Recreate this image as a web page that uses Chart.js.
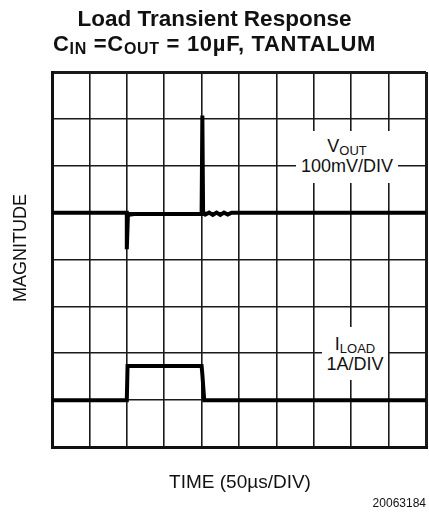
<!DOCTYPE html>
<html>
<head>
<meta charset="utf-8">
<script src="https://cdn.jsdelivr.net/npm/chart.js@4/dist/chart.umd.min.js"></script>
<style>
  body { margin: 0; background: #fff; }
  #wrap { position: relative; width: 429px; height: 518px; font-family: "Liberation Sans", Arial, sans-serif; color: #111; }
  #plot { position: absolute; left: 0; top: 0; }
  .txt { position: absolute; white-space: nowrap; line-height: 1; }
  .title { left: 0; width: 429px; text-align: center; font-weight: bold; }
  .title sub { font-size: 16px; vertical-align: -3px; }
  .box { position: absolute; background: #fff; text-align: center; font-size: 18px; line-height: 1; }
  .box sub { font-size: 13px; vertical-align: -3px; }
</style>
</head>
<body>
<div id="wrap">
  <canvas id="plot" width="429" height="518"></canvas>
  <div class="txt title" style="top:8px; font-size:22.5px">Load Transient Response</div>
  <div class="txt title" style="top:33px; font-size:22px; letter-spacing:0.7px">C<sub>IN</sub> =C<sub>OUT</sub> = 10µF, TANTALUM</div>
  <div class="box" style="left:296px; top:131px; width:102px; height:52px; padding-top:6px; box-sizing:border-box">V<sub>OUT</sub><br>100mV/DIV</div>
  <div class="box" style="left:322px; top:327px; width:66px; height:53px; padding-top:8px; box-sizing:border-box">I<sub>LOAD</sub><br>1A/DIV</div>
  <div class="txt" style="left:20px; top:248px; font-size:18px; transform: translate(-50%, -50%) rotate(-90deg);">MAGNITUDE</div>
  <div class="txt" style="left:240px; top:481px; font-size:19px; transform: translate(-50%, -50%);">TIME (50µs/DIV)</div>
  <div class="txt" style="right:3px; top:497px; font-size:12px;">20063184</div>
</div>
<script>
// time axis in divisions (50us/div), levels in screen divisions from the bottom
const xDivs = [0, 10];
const yDivs = [0, 8];

const voutTime  = [0, 2.0, 2.0, 2.03, 2.1, 2.2, 4.0, 4.02, 4.04, 4.1, 4.2, 4.3, 4.4, 4.5, 4.6, 4.7, 4.8, 10];
const voutLevel = [5.0, 5.0, 4.22, 4.95, 4.96, 4.97, 4.97, 7.07, 5.02, 4.96, 5.0, 4.95, 5.0, 4.95, 5.0, 4.96, 5.0, 5.0];

const loadTime  = [0, 2.0, 2.02, 4.0, 4.02, 4.07, 10];
const loadLevel = [1.0, 1.0, 1.73, 1.73, 1.55, 1.0, 1.0];

const toPts = (xs, ys) => xs.map((x, i) => ({ x: x, y: ys[i] }));

const edge = (c, lo, hi) => (c.tick && (c.tick.value === lo || c.tick.value === hi)) ? 3 : 1.6;

new Chart(document.getElementById('plot'), {
  type: 'line',
  data: {
    datasets: [
      { label: 'VOUT', data: toPts(voutTime, voutLevel), borderColor: '#000', borderWidth: 4, pointRadius: 0, tension: 0 },
      { label: 'ILOAD', data: toPts(loadTime, loadLevel), borderColor: '#000', borderWidth: 4, pointRadius: 0, tension: 0 }
    ]
  },
  options: {
    responsive: false,
    animation: false,
    devicePixelRatio: 1,
    layout: { padding: { left: 52, right: 3, top: 72, bottom: 71 } },
    plugins: { legend: { display: false }, tooltip: { enabled: false } },
    scales: {
      x: {
        type: 'linear', min: xDivs[0], max: xDivs[1],
        ticks: { display: false, stepSize: 1 },
        grid: { color: '#1a1a1a', lineWidth: c => edge(c, xDivs[0], xDivs[1]), drawTicks: false },
        border: { color: '#111', width: 3 }
      },
      y: {
        type: 'linear', min: yDivs[0], max: yDivs[1],
        ticks: { display: false, stepSize: 1 },
        grid: { color: '#1a1a1a', lineWidth: c => edge(c, yDivs[0], yDivs[1]), drawTicks: false },
        border: { color: '#111', width: 3 }
      }
    }
  }
});
</script>
</body>
</html>
